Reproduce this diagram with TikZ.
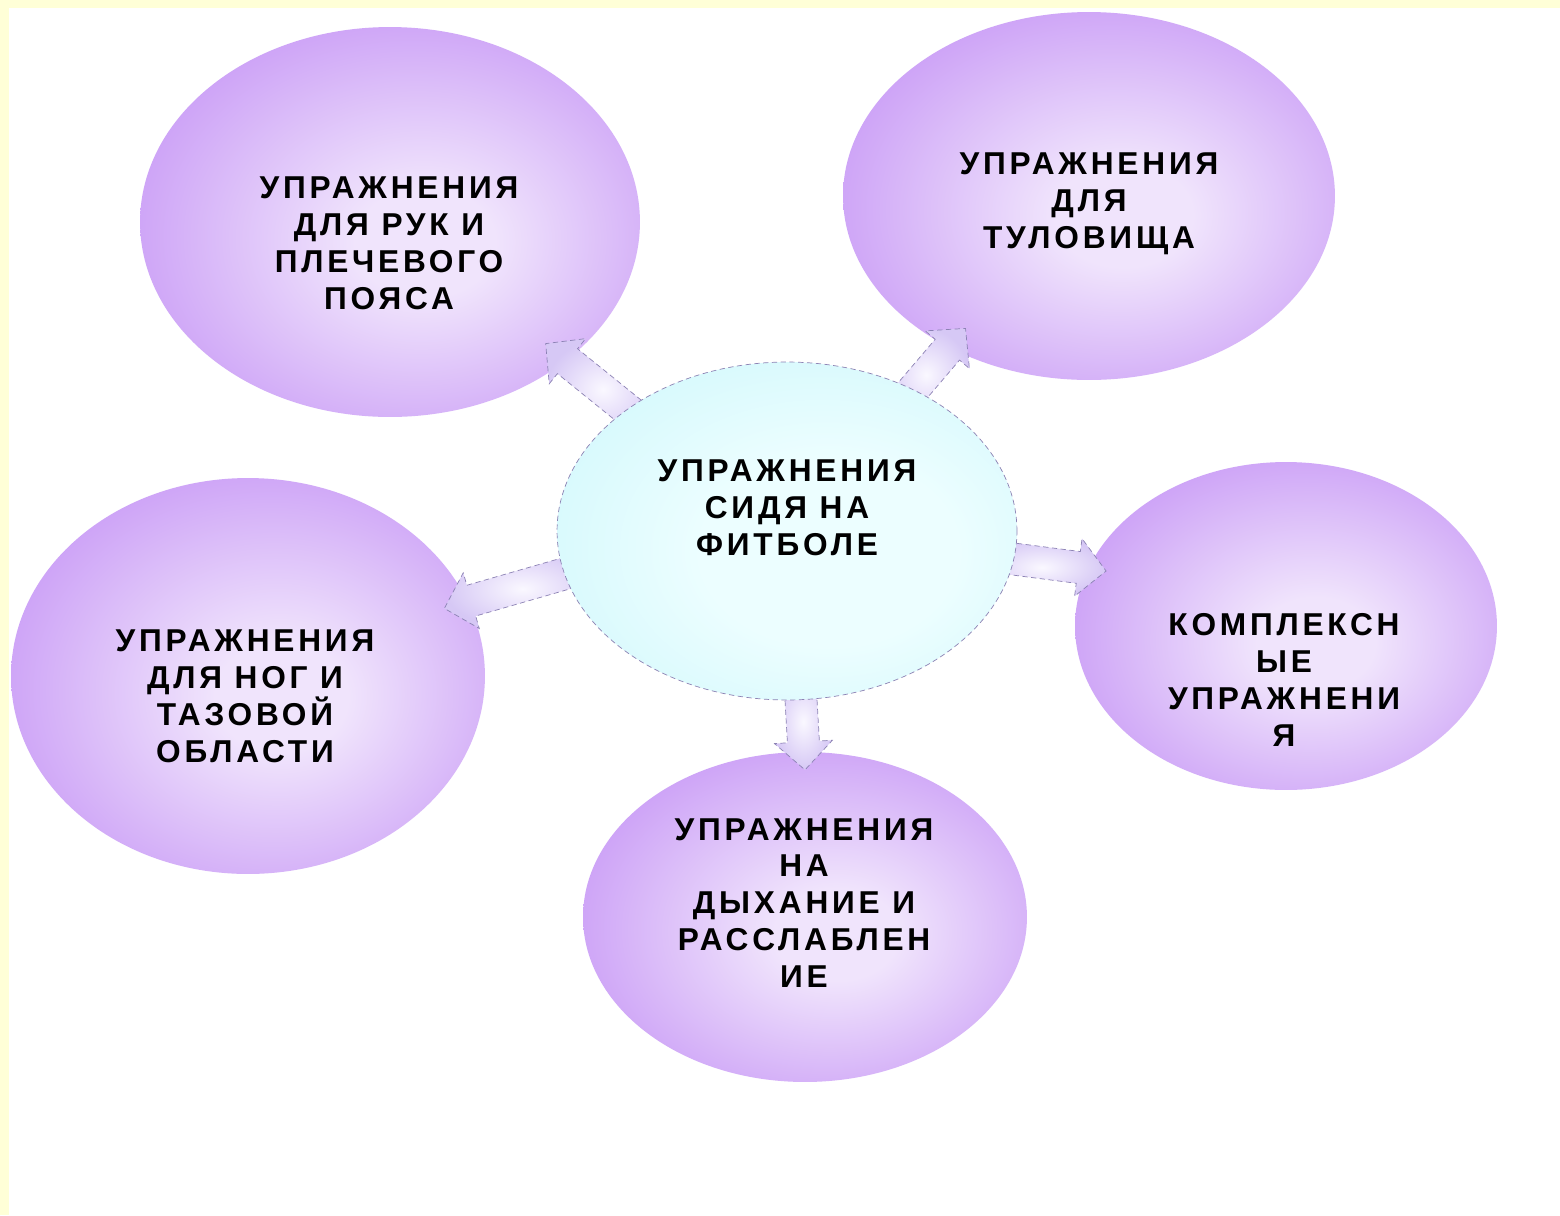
\documentclass[tikz,border=0pt]{standalone}
\usepackage{fontspec}
\setmainfont{Liberation Sans}
\newfontfamily\ballfont[LetterSpace=12]{Liberation Sans}
\usetikzlibrary{shapes.geometric,calc}

\definecolor{ballin}{RGB}{240,228,252}
\definecolor{ballout}{RGB}{194,142,245}
\definecolor{hubin}{RGB}{236,254,255}
\definecolor{hubout}{RGB}{194,244,250}
\definecolor{arrowin}{RGB}{250,248,255}
\definecolor{arrowout}{RGB}{214,200,245}
\definecolor{arrowline}{RGB}{140,130,180}
\definecolor{pagebar}{RGB}{255,255,215}

\pgfdeclareradialshading{ballshade}{\pgfpoint{4bp}{-3bp}}{color(0bp)=(ballin); color(7bp)=(ballin); color(35bp)=(ballout); color(60bp)=(ballout)}
\pgfdeclareradialshading{hubshade}{\pgfpoint{6bp}{-4bp}}{color(0bp)=(hubin); color(14bp)=(hubin); color(46bp)=(hubout); color(60bp)=(hubout)}

\tikzset{
  ball/.style={ellipse, inner sep=0pt, shading=ballshade},
  hub/.style={ellipse, inner sep=0pt, shading=hubshade, draw=arrowline, densely dashed, thin},
  balltext/.style={align=center, inner sep=0pt, font=\ballfont\bfseries\fontsize{18}{21}\selectfont},
  blockarrow/.style={draw=arrowline, densely dashed, thin, inner color=arrowin, outer color=arrowout},
}

% block arrow from tail #1 to tip #2
\newcommand{\blockarrow}[2]{%
  \path #1 coordinate (arT) #2 coordinate (arP);
  \path ($(arP)!0.56cm!(arT)$) coordinate (arB);
  \path[blockarrow] ($(arT)!0.32cm!90:(arP)$) -- ($(arB)!0.32cm!90:(arP)$)
    -- ($(arB)!0.58cm!90:(arP)$) -- (arP) -- ($(arB)!0.58cm!-90:(arP)$)
    -- ($(arB)!0.32cm!-90:(arP)$) -- ($(arT)!0.32cm!-90:(arP)$) -- cycle;
}

\begin{document}
\begin{tikzpicture}[x=0.02cm, y=-0.02cm]
\useasboundingbox (0,0) rectangle (1560,1215);
% Page
\fill[pagebar] (0,0) rectangle (1560,1215);
\fill[white] (9,8) rectangle (1560,1215);

% Outer balls
\node[ball, minimum width=10cm, minimum height=7.8cm] (tl) at (390,222) {};
\node[ball, minimum width=9.84cm, minimum height=7.36cm] (tr) at (1089,196) {};
\node[ball, minimum width=9.48cm, minimum height=7.92cm] (lf) at (248,676) {};
\node[ball, minimum width=8.44cm, minimum height=6.56cm] (rt) at (1286,626) {};
\node[ball, minimum width=8.88cm, minimum height=6.6cm] (bm) at (805,917) {};

% Centre
\path (787,531) coordinate (hubc);
\node[ellipse, inner sep=0pt, minimum width=9.2cm, minimum height=6.76cm] (hubshape) at (hubc) {};

% Arrows
\blockarrow{($(hubshape.143)!0.15!(hubshape)$)}{($(tl)!0.88!(tl.-38)$)}
\blockarrow{($(hubshape.48)!0.15!(hubshape)$)}{($(tr)!0.876!(tr.-133)$)}
\blockarrow{($(hubshape.-7)!0.15!(hubshape)$)}{($(rt)!0.915!(rt.163)$)}
\blockarrow{($(hubshape.190)!0.15!(hubshape)$)}{($(lf)!0.895!(lf.19.5)$)}
\blockarrow{($(hubshape.-85)!0.15!(hubshape)$)}{($(bm)!0.89!(bm.90)$)}

\node[hub, minimum width=9.2cm, minimum height=6.76cm] (hub) at (hubc) {};

% Texts
\node[balltext] (hubText) at (787,508) {\fontsize{18}{22.5}\selectfont УПРАЖНЕНИЯ\\СИДЯ НА\\ФИТБОЛЕ};
\node[balltext] (tlText) at (389,243) {УПРАЖНЕНИЯ\\ДЛЯ РУК И\\ПЛЕЧЕВОГО\\ПОЯСА};
\node[balltext] (trText) at (1089,204) {УПРАЖНЕНИЯ\\ДЛЯ\\ТУЛОВИЩА};
\node[balltext] (lfText) at (245,696) {УПРАЖНЕНИЯ\\ДЛЯ НОГ И\\ТАЗОВОЙ\\ОБЛАСТИ};
\node[balltext] (rtText) at (1284,680) {\fontsize{18}{23.5}\selectfont КОМПЛЕКСН\\ЫЕ\\УПРАЖНЕНИ\\Я};
\node[balltext] (bmText) at (804,903) {УПРАЖНЕНИЯ\\НА\\ДЫХАНИЕ И\\РАССЛАБЛЕН\\ИЕ};
\end{tikzpicture}
\end{document}
